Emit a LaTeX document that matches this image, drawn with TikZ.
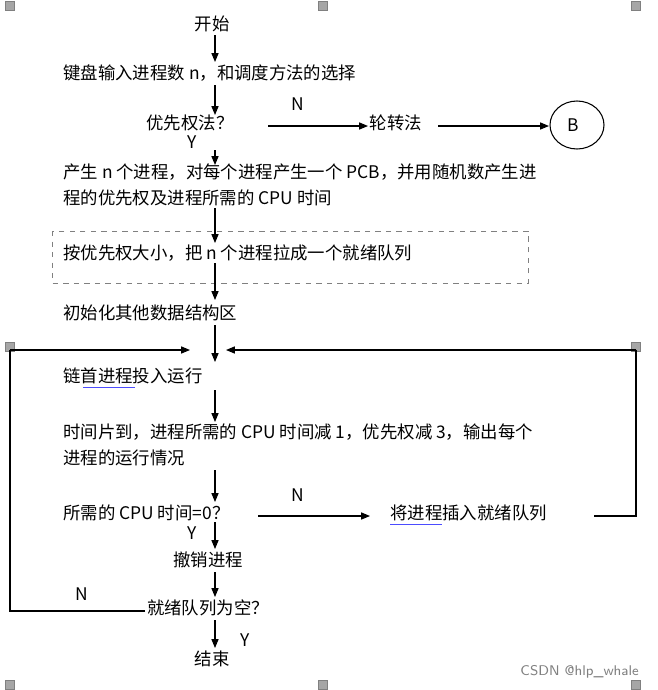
\documentclass[tikz,border=0pt]{standalone}
\usepackage{fontspec}
\setmainfont{Liberation Serif}
\newfontfamily\cjk{Noto Sans CJK SC}
\usetikzlibrary{arrows.meta}
\begin{document}
\begin{tikzpicture}[x=0.02cm,y=-0.02cm,
  txt/.style={font=\cjk\fontsize{9.9}{12}\selectfont,inner sep=0pt},
  lt/.style={txt,anchor=west},
  arr/.style={-{Triangle[length=5pt,width=4pt]},line width=0.6pt},
  ln/.style={line width=0.6pt},
  hdl/.style={fill=gray!70,draw=gray,minimum size=5pt,inner sep=0pt}]
\useasboundingbox (0,0) rectangle (658,690);
\foreach \x/\y [count=\i] in {10/6,323/6,636/6,10/347,636/347,10/685,323/685,636/685}
  \node[hdl] (h\i) at (\x,\y) {};
\node[txt] (start) at (212,24) {开始};
\node[lt] (input) at (63,73) {键盘输入进程数 n，和调度方法的选择};
\node[txt] (prio) at (190,123) {优先权法？};
\node[txt] at (192,142) {Y};
\node[txt] at (298,104) {N};
\node[txt] (rr) at (396,123) {轮转法};
\draw[ln] (577,125) ellipse (27 and 24);
\node[txt] (B) at (573,125) {B};
\node[lt] (gen1) at (63,172) {产生 n 个进程，对每个进程产生一个 PCB，并用随机数产生进};
\node[lt] (gen2) at (63,198) {程的优先权及进程所需的 CPU 时间};
\draw[dashed,gray,line width=0.5pt] (52,231) rectangle (528,283);
\node[lt] (sort) at (63,253) {按优先权大小，把 n 个进程拉成一个就绪队列};
\node[lt] (init) at (63,313) {初始化其他数据结构区};
\node[lt] (run) at (63,376) {链首进程投入运行};
\draw[blue!70,line width=0.5pt] (83,387) -- (135,387);
\node[lt] (tp1) at (63,432) {时间片到，进程所需的 CPU 时间减 1，优先权减 3，输出每个};
\node[lt] (tp2) at (63,458) {进程的运行情况};
\node[lt] (zero) at (63,513) {所需的 CPU 时间=0？};
\node[txt] at (298,495) {N};
\node[lt] (ins) at (390,513) {将进程插入就绪队列};
\draw[blue!70,line width=0.5pt] (390,524) -- (442,524);
\node[txt] at (192,533) {Y};
\node[txt] (kill) at (208,560) {撤销进程};
\node[txt] (empty) at (208,608) {就绪队列为空？};
\node[txt] at (82,594) {N};
\node[txt] at (245,640) {Y};
\node[txt] (end) at (212,659) {结束};
\node[anchor=east,font=\fontsize{8}{10}\selectfont\sffamily,text=gray] (wm) at (645,672) {CSDN @hlp\_whale};
\draw[arr] (215,35) -- (215,62);
\draw[arr] (215,85) -- (215,115);
\draw[arr] (268,126) -- (368,126);
\draw[arr] (438,126) -- (549,126);
\draw[arr] (215,150) -- (215,165);
\draw[arr] (215,208) -- (215,243);
\draw[arr] (215,263) -- (215,300);
\draw[arr] (215,325) -- (215,362);
\draw[arr] (10,350) -- (190,350);
\draw[arr] (636,350) -- (226,350);
\draw[arr] (215,390) -- (215,422);
\draw[arr] (215,470) -- (215,502);
\draw[arr] (258,516) -- (370,516);
\draw[ln] (594,516) -- (636,516) -- (636,350);
\draw[arr] (215,522) -- (215,549);
\draw[arr] (215,572) -- (215,597);
\draw[ln] (145,611) -- (10,611) -- (10,350);
\draw[arr] (215,620) -- (215,648);
\end{tikzpicture}
\end{document}
